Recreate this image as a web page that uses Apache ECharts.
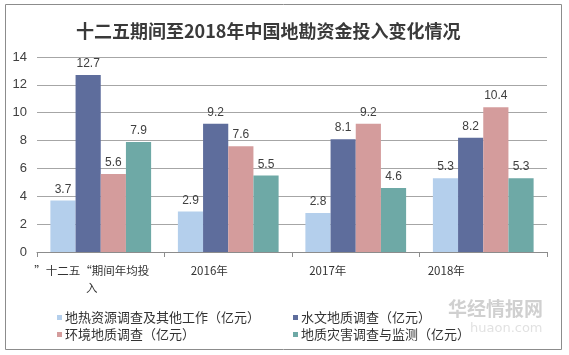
<!DOCTYPE html>
<html><head><meta charset="utf-8">
<script src="https://cdn.jsdelivr.net/npm/echarts@6/dist/echarts.min.js"></script>
<style>html,body{margin:0;padding:0;background:#fff}#c{width:569px;height:355px}</style>
</head><body><div id="c"></div>
<script>
const categories = ['”十二五“期间年均投\n入', '2016年', '2017年', '2018年'];
const seriesNames = ['地热资源调查及其他工作（亿元）', '水文地质调查（亿元）', '环境地质调查（亿元）', '地质灾害调查与监测（亿元）'];
const geothermal = [3.7, 2.9, 2.8, 5.3];
const hydro = [12.7, 9.2, 8.1, 8.2];
const environ = [5.6, 7.6, 9.2, 10.4];
const hazard = [7.9, 5.5, 4.6, 5.3];
const yTicks = [0, 2, 4, 6, 8, 10, 12, 14];
const colors = ['#b4cfec', '#5e6d9c', '#d49c9c', '#6ea9a6'];
const font = '"Noto Sans CJK SC", "Liberation Sans", sans-serif';
const labelShift = [18, 38, 56, 74];

const chart = echarts.init(document.getElementById('c'));
const values = [geothermal, hydro, environ, hazard];
const richStyle = (p) => ({ padding: [0, p, 0, 0], fontSize: 11.5, lineHeight: 17, color: '#333', fontFamily: font });
chart.setOption({
  animation: false,
  title: {
    text: '十二五期间至2018年中国地勘资金投入变化情况',
    left: 71, top: 17,
    textStyle: { fontSize: 18, fontWeight: 'bold', color: '#3a3a3a', fontFamily: font }
  },
  graphic: [
    { type: 'rect', shape: { x: 5.5, y: 4.5, width: 556, height: 345 }, style: { fill: 'none', stroke: '#8c8c8c', lineWidth: 1 } },
    { type: 'text', left: 448, top: 299, style: { text: '华经情报网', fill: 'rgba(150,150,150,0.45)', font: 'bold 19px ' + font } },
    { type: 'text', left: 470, top: 322, style: { text: 'huaon.com', fill: 'rgba(170,170,170,0.35)', font: '13px "DejaVu Sans"' } }
  ],
  grid: { left: 37, right: 22, top: 57, bottom: 103 },
  legend: [
    { data: [seriesNames[0], seriesNames[2]], orient: 'vertical', left: 52, top: 306, itemGap: 4, itemWidth: 5, itemHeight: 5, icon: 'rect',
      textStyle: { fontSize: 13, color: '#333', fontFamily: font, padding: [0, 0, 0, -2] } },
    { data: [seriesNames[1], seriesNames[3]], orient: 'vertical', left: 288, top: 306, itemGap: 4, itemWidth: 5, itemHeight: 5, icon: 'rect',
      textStyle: { fontSize: 13, color: '#333', fontFamily: font, padding: [0, 0, 0, -2] } }
  ],
  xAxis: {
    type: 'category', data: categories,
    axisLine: { lineStyle: { color: '#8c8c8c' } },
    axisTick: { show: true, alignWithLabel: false, length: 5, lineStyle: { color: '#8c8c8c' } },
    axisLabel: {
      margin: 10, color: '#333', fontSize: 11.5, fontFamily: font, lineHeight: 17, interval: 0,
      formatter: function (v, i) { return '{s' + i + '|' + v + '}'; },
      rich: { s0: richStyle(labelShift[0]), s1: richStyle(labelShift[1]), s2: richStyle(labelShift[2]), s3: richStyle(labelShift[3]) }
    }
  },
  yAxis: {
    type: 'value', min: yTicks[0], max: yTicks[yTicks.length - 1], interval: 2,
    axisLine: { show: false }, axisTick: { show: false },
    splitLine: { lineStyle: { color: '#a6a6a6' } },
    axisLabel: { color: '#404040', fontSize: 13, fontFamily: '"Liberation Sans", sans-serif', margin: 10 }
  },
  series: seriesNames.map((n, k) => ({
    name: n, type: 'bar', data: values[k],
    barGap: '0%', barCategoryGap: '21%',
    itemStyle: { color: colors[k] },
    label: { show: true, position: 'top', distance: 5, color: '#404040', fontSize: 12, fontFamily: '"Liberation Sans", sans-serif' }
  }))
});
</script></body></html>
